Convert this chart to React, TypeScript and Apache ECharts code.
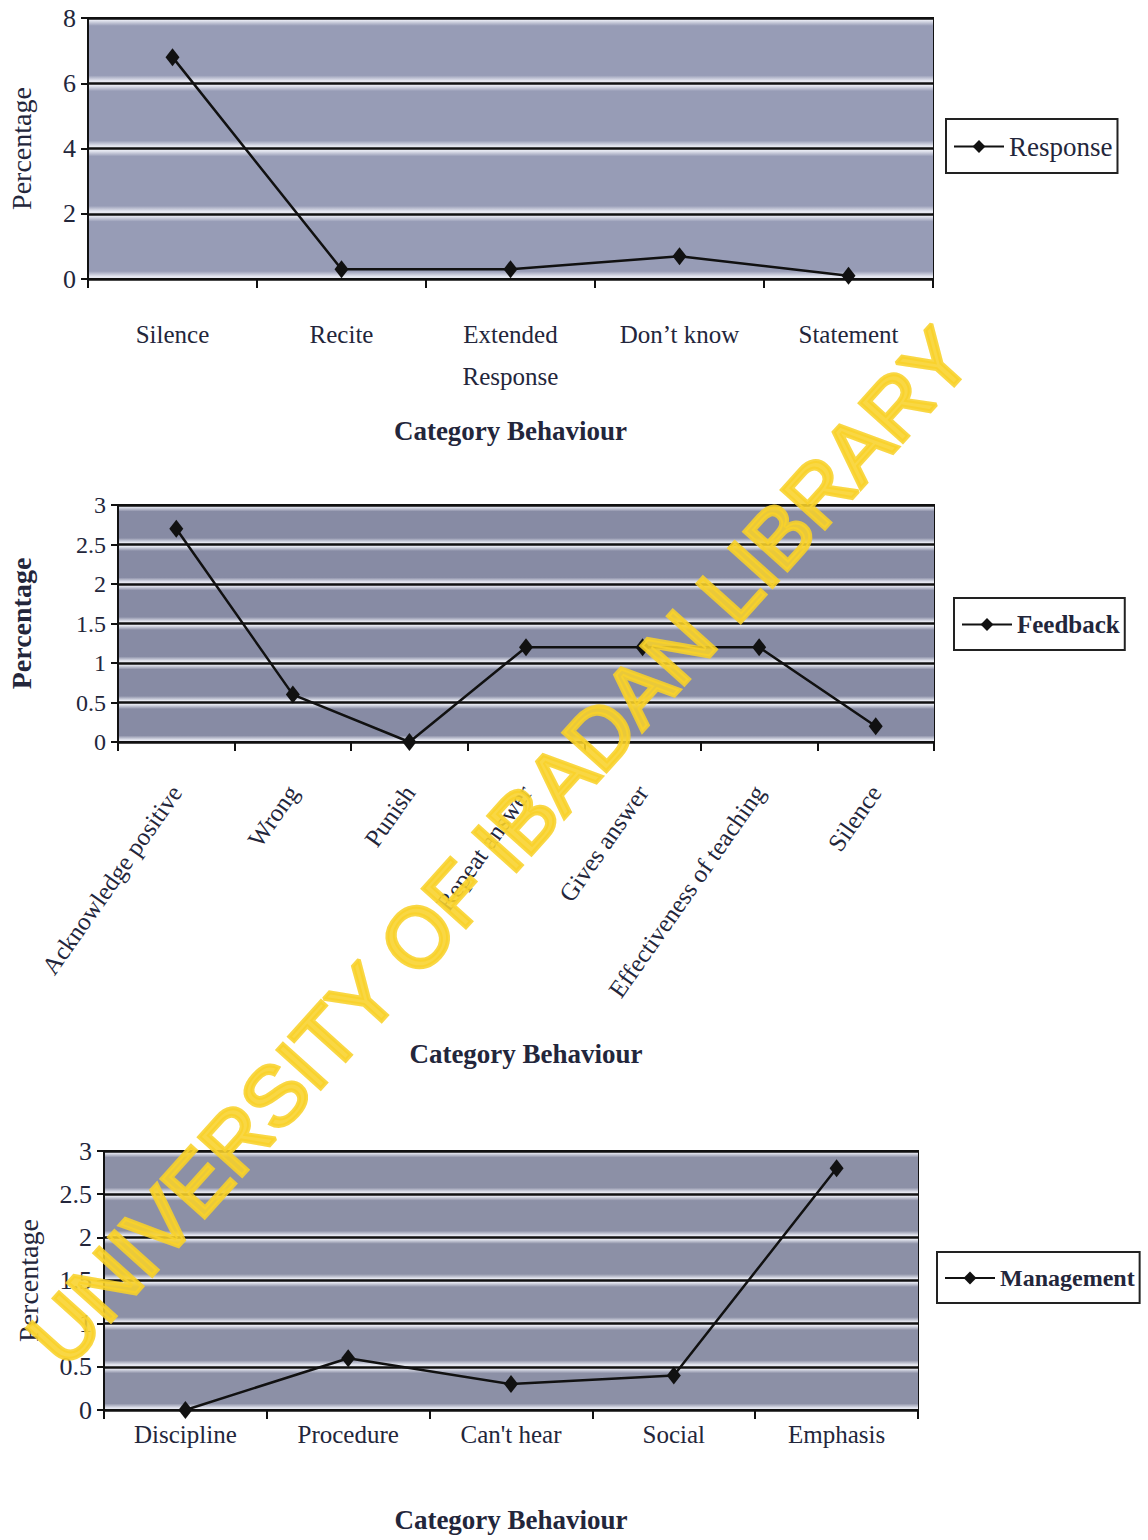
import React, { useEffect, useRef } from "react";
import * as echarts from "echarts";

// Response chart
const responseCategories = ["Silence", "Recite", "Extended\nResponse", "Don’t know", "Statement"];
const responseValues = [6.8, 0.3, 0.3, 0.7, 0.1];
const responseAxis = { min: 0, max: 8, interval: 2 };

// Feedback chart
const feedbackCategories = [
  "Acknowledge positive",
  "Wrong",
  "Punish",
  "Repeat answer",
  "Gives answer",
  "Effectiveness of teaching",
  "Silence",
];
const feedbackValues = [2.7, 0.6, 0, 1.2, 1.2, 1.2, 0.2];
const feedbackAxis = { min: 0, max: 3, interval: 0.5 };

// Management chart
const managementCategories = ["Discipline", "Procedure", "Can't hear", "Social", "Emphasis"];
const managementValues = [0, 0.6, 0.3, 0.4, 2.8];
const managementAxis = { min: 0, max: 3, interval: 0.5 };

const FONT = "'Liberation Serif', 'Times New Roman', serif";
const INK = "#23263b";
const LINE = "#111111";
const PALE = "#e6e8f1";

// Each band between gridlines: dark grey-blue centre with pale strips next to the rules
function band(edge: number, dark: string) {
  return new echarts.graphic.LinearGradient(0, 0, 0, 1, [
    { offset: 0, color: PALE },
    { offset: edge * 0.45, color: PALE },
    { offset: edge * 1.5, color: dark },
    { offset: 1 - edge * 1.5, color: dark },
    { offset: 1 - edge * 0.45, color: PALE },
    { offset: 1, color: PALE },
  ]);
}

function makeGrid(left: number, top: number, width: number, height: number) {
  return {
    left,
    top,
    width,
    height,
    show: true,
    borderColor: LINE,
    borderWidth: 2,
    backgroundColor: "transparent",
    outerBoundsMode: "none",
  };
}

function makeXAxis(gridIndex: number, data: string[], label: any, nameGap: number) {
  return {
    type: "category",
    gridIndex,
    data,
    boundaryGap: true,
    axisLine: { show: true, lineStyle: { color: LINE, width: 2 } },
    axisTick: { show: true, length: 9, lineStyle: { color: LINE, width: 2 } },
    axisLabel: {
      interval: 0,
      color: INK,
      fontFamily: FONT,
      ...label,
    },
    splitLine: { show: false },
    name: "Category Behaviour",
    nameLocation: "middle",
    nameGap,
    nameTextStyle: {
      color: INK,
      fontFamily: FONT,
      fontSize: 27,
      fontWeight: "bold",
    },
  };
}

function makeYAxis(
  gridIndex: number,
  range: { min: number; max: number; interval: number },
  labelSize: number,
  nameGap: number,
  nameWeight: string,
  edge: number,
  dark: string
) {
  return {
    type: "value",
    gridIndex,
    min: range.min,
    max: range.max,
    interval: range.interval,
    axisLine: { show: true, lineStyle: { color: LINE, width: 2 } },
    axisTick: { show: true, length: 7, lineStyle: { color: LINE, width: 2 } },
    axisLabel: {
      color: INK,
      fontFamily: FONT,
      fontSize: labelSize,
      margin: 12,
    },
    splitLine: { show: true, lineStyle: { color: LINE, width: 2.5 } },
    splitArea: {
      show: true,
      areaStyle: { color: [band(edge, dark), band(edge, dark)] },
    },
    name: "Percentage",
    nameLocation: "middle",
    nameRotate: 90,
    nameGap,
    nameTextStyle: {
      color: INK,
      fontFamily: FONT,
      fontSize: 28,
      fontWeight: nameWeight,
    },
  };
}

function makeSeries(name: string, idx: number, data: number[]) {
  return {
    name,
    type: "line",
    xAxisIndex: idx,
    yAxisIndex: idx,
    data,
    symbol: "diamond",
    symbolSize: [14, 18],
    lineStyle: { color: LINE, width: 2.5 },
    itemStyle: { color: LINE },
    z: 5,
  };
}

function makeLegend(name: string, left: number, top: number, weight: string, size: number) {
  return {
    data: [name],
    left,
    top,
    orient: "horizontal",
    backgroundColor: "#ffffff",
    borderColor: "#222222",
    borderWidth: 2,
    borderRadius: 0,
    padding: [14, 5, 13, 7],
    itemWidth: 50,
    itemHeight: 16,
    itemGap: 4,
    selectedMode: false,
    textStyle: { color: INK, fontFamily: FONT, fontSize: size, fontWeight: weight },
  };
}

export default function App() {
  const ref = useRef<HTMLDivElement>(null);

  useEffect(() => {
    if (!ref.current) return;
    const chart = echarts.init(ref.current, null, { renderer: "svg" });

    const option = {
      animation: false,
      backgroundColor: "#ffffff",
      grid: [
        makeGrid(88, 18, 845, 261),
        makeGrid(118, 505, 816, 237),
        makeGrid(104, 1151, 814, 259),
      ],
      xAxis: [
        makeXAxis(0, responseCategories, { fontSize: 25, margin: 34, lineHeight: 42 }, 138),
        makeXAxis(1, feedbackCategories, { fontSize: 25, margin: 46, rotate: 55 }, 298),
        makeXAxis(2, managementCategories, { fontSize: 25, margin: 12 }, 96),
      ],
      yAxis: [
        makeYAxis(0, responseAxis, 26, 53, "normal", 0.08, "#979cb6"),
        makeYAxis(1, feedbackAxis, 24, 83, "bold", 0.11, "#878ba4"),
        makeYAxis(2, managementAxis, 26, 62, "normal", 0.1, "#8c90a6"),
      ],
      legend: [
        makeLegend("Response", 946, 119, "normal", 27),
        makeLegend("Feedback", 954, 598, "bold", 25),
        makeLegend("Management", 937, 1252, "bold", 24),
      ],
      series: [
        makeSeries("Response", 0, responseValues),
        makeSeries("Feedback", 1, feedbackValues),
        makeSeries("Management", 2, managementValues),
      ],
      graphic: [
        {
          type: "text",
          x: 499,
          y: 847,
          rotation: (48 * Math.PI) / 180,
          z: 100,
          silent: true,
          style: {
            text: "UNIVERSITY OF IBADAN LIBRARY",
            fontFamily: "'Liberation Sans', Arial, sans-serif",
            fontSize: 84,
            fill: "#f8d12a",
            stroke: "#f8d12a",
            lineWidth: 4,
            align: "center",
            verticalAlign: "middle",
            opacity: 0.88,
          },
        },
      ],
    };

    chart.setOption(option as any);
    return () => chart.dispose();
  }, []);

  return (
    <div
      ref={ref}
      style={{ position: "absolute", left: 0, top: 0, width: 1148, height: 1540 }}
    />
  );
}
